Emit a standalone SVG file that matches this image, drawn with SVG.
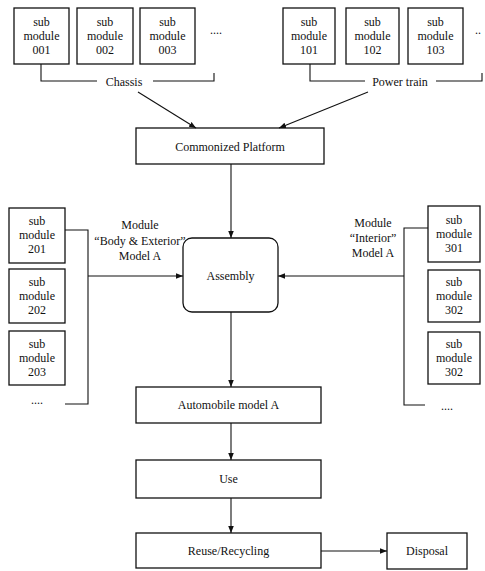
<svg xmlns="http://www.w3.org/2000/svg" width="485" height="571" viewBox="0 0 485 571">
<defs>
<style>
.box{fill:#fff;stroke:#111;stroke-width:1.3}
.ln{fill:none;stroke:#111;stroke-width:1.1}
text{font-family:"Liberation Serif","Times New Roman",serif;font-size:12px;fill:#111;text-anchor:middle}
</style>
<marker id="ah" viewBox="0 0 10 10" refX="10" refY="5" markerWidth="7" markerHeight="7" orient="auto" markerUnits="userSpaceOnUse">
<path d="M0,1 L10,5 L0,9 Z" fill="#111"/>
</marker>
</defs>
<rect width="485" height="571" fill="#fff"/>

<g id="sm001"><rect class="box" x="14" y="8" width="55" height="56"/><text x="41.5" y="26">sub</text><text x="41.5" y="40">module</text><text x="41.5" y="54">001</text></g>
<g id="sm002"><rect class="box" x="77" y="8" width="56" height="56"/><text x="105" y="26">sub</text><text x="105" y="40">module</text><text x="105" y="54">002</text></g>
<g id="sm003"><rect class="box" x="140" y="8" width="55" height="56"/><text x="167.5" y="26">sub</text><text x="167.5" y="40">module</text><text x="167.5" y="54">003</text></g>
<g id="dots0"><text x="216" y="34">....</text></g>

<g id="sm101"><rect class="box" x="283" y="8" width="52" height="56"/><text x="309" y="26">sub</text><text x="309" y="40">module</text><text x="309" y="54">101</text></g>
<g id="sm102"><rect class="box" x="346" y="8" width="53" height="56"/><text x="372.5" y="26">sub</text><text x="372.5" y="40">module</text><text x="372.5" y="54">102</text></g>
<g id="sm103"><rect class="box" x="408" y="8" width="55" height="56"/><text x="435.5" y="26">sub</text><text x="435.5" y="40">module</text><text x="435.5" y="54">103</text></g>
<g id="dots1"><text x="478" y="34">..</text></g>

<g id="chassis"><text x="124" y="86">Chassis</text></g>
<g id="powertrain"><text x="400" y="86">Power train</text></g>

<g id="platform"><rect class="box" x="136" y="128" width="188" height="36"/><text x="230" y="151">Commonized Platform</text></g>
<g id="assembly"><rect class="box" x="183" y="238" width="95" height="74" rx="9"/><text x="230.5" y="280">Assembly</text></g>

<g id="labelBody"><text x="140" y="229">Module</text><text x="140" y="245">“Body &amp; Exterior”</text><text x="140" y="260">Model A</text></g>
<g id="labelInterior"><text x="373" y="227">Module</text><text x="373" y="242">“Interior”</text><text x="373" y="257">Model A</text></g>

<g id="sm201"><rect class="box" x="9" y="208" width="56" height="55"/><text x="37" y="225">sub</text><text x="37" y="239">module</text><text x="37" y="253">201</text></g>
<g id="sm202"><rect class="box" x="9" y="269" width="56" height="54"/><text x="37" y="286">sub</text><text x="37" y="300">module</text><text x="37" y="314">202</text></g>
<g id="sm203"><rect class="box" x="9" y="331" width="56" height="54"/><text x="37" y="348">sub</text><text x="37" y="362">module</text><text x="37" y="376">203</text></g>
<g id="dots2"><text x="37" y="404">....</text></g>

<g id="sm301"><rect class="box" x="428" y="206" width="52" height="56"/><text x="454" y="224">sub</text><text x="454" y="238">module</text><text x="454" y="252">301</text></g>
<g id="sm302"><rect class="box" x="428" y="270" width="52" height="52"/><text x="454" y="286">sub</text><text x="454" y="300">module</text><text x="454" y="314">302</text></g>
<g id="sm302b"><rect class="box" x="428" y="332" width="52" height="52"/><text x="454" y="348">sub</text><text x="454" y="362">module</text><text x="454" y="376">302</text></g>
<g id="dots3"><text x="447" y="410">....</text></g>

<g id="auto"><rect class="box" x="136" y="387" width="185" height="36"/><text x="228.5" y="409">Automobile  model A</text></g>
<g id="use"><rect class="box" x="136" y="460" width="185" height="38"/><text x="228.5" y="483">Use</text></g>
<g id="reuse"><rect class="box" x="136" y="533" width="185" height="35"/><text x="228.5" y="555">Reuse/Recycling</text></g>
<g id="disposal"><rect class="box" x="387" y="533" width="80" height="36"/><text x="427" y="555">Disposal</text></g>

<g id="connectors">
<path class="ln" d="M41,64 V81 H97 M153,81 H214 V73"/>
<path class="ln" d="M310,64 V81 H365 M436,81 H482 V73"/>
<line class="ln" x1="138" y1="92" x2="196" y2="128" marker-end="url(#ah)"/>
<line class="ln" x1="368" y1="92" x2="279" y2="128" marker-end="url(#ah)"/>
<line class="ln" x1="231" y1="164" x2="231" y2="238" marker-end="url(#ah)"/>
<path class="ln" d="M65,230 H88 V404 H65"/>
<line class="ln" x1="88" y1="276" x2="183" y2="276" marker-end="url(#ah)"/>
<path class="ln" d="M428,228 H404 V405 H425"/>
<line class="ln" x1="404" y1="276" x2="278" y2="276" marker-end="url(#ah)"/>
<line class="ln" x1="231" y1="312" x2="231" y2="387" marker-end="url(#ah)"/>
<line class="ln" x1="231" y1="423" x2="231" y2="460" marker-end="url(#ah)"/>
<line class="ln" x1="231" y1="498" x2="231" y2="533" marker-end="url(#ah)"/>
<line class="ln" x1="321" y1="551" x2="387" y2="551" marker-end="url(#ah)"/>
</g>
</svg>
